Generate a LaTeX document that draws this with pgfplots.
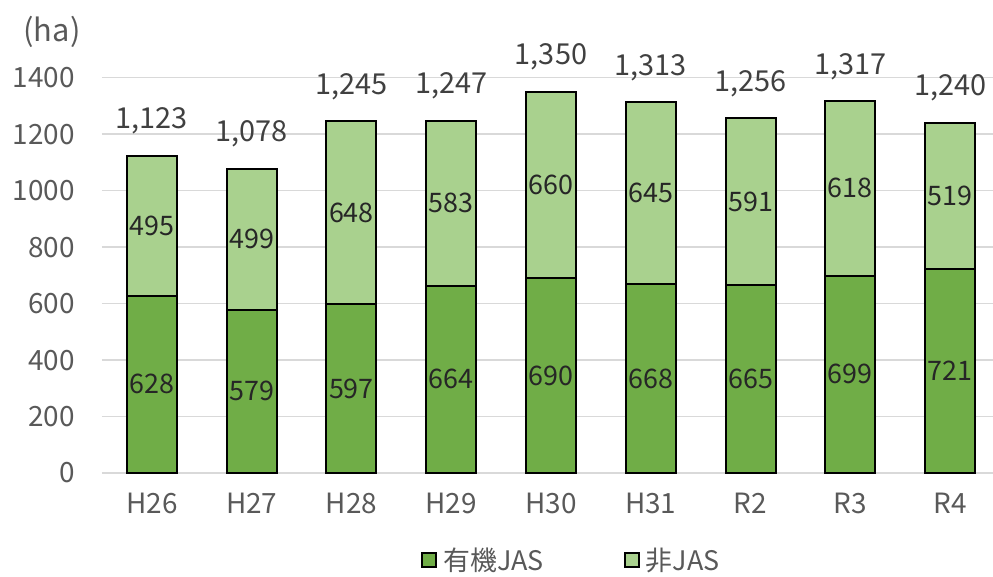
\documentclass[border=0pt]{standalone}
\usepackage{fontspec}
\setmainfont{Noto Sans CJK JP}
\usepackage{pgfplots}
\pgfplotsset{compat=1.18}
\usepackage{pgfplotstable}
\definecolor{dg}{HTML}{70AD47}
\definecolor{lg}{HTML}{A9D18E}
\definecolor{tk}{HTML}{595959}
\definecolor{tt}{HTML}{404040}
\definecolor{in}{HTML}{262626}
\definecolor{gl}{HTML}{D9D9D9}
\pgfplotstableread{
x org non total
0 628 495 1123
1 579 499 1078
2 597 648 1245
3 664 583 1247
4 690 660 1350
5 668 645 1313
6 665 591 1256
7 699 618 1317
8 721 519 1240
}\data
\begin{document}
\begin{tikzpicture}
\useasboundingbox (-102bp,-104bp) rectangle (891bp,473bp);
\begin{axis}[
  at={(0,0)}, anchor=south west,
  scale only axis, width=891bp, height=395.3bp,
  xmin=-0.5, xmax=8.43, ymin=0, ymax=1400,
  ytick={0,200,...,1400},
  xtick={0,...,8}, xticklabels={H26,H27,H28,H29,H30,H31,R2,R3,R4},
  axis line style={draw=none}, major tick length=0pt,
  ymajorgrids, grid style={gl, line width=1.5bp},
  ybar, bar width=50bp, bar shift=0pt,
  tick label style={font=\fontsize{28}{32}\selectfont, text=tk},
  /pgf/number format/assume math mode=true, /pgf/number format/1000 sep={},
  yticklabel style={anchor=east, inner sep=0pt, xshift=-27bp},
  xticklabel style={anchor=base, inner sep=0pt, yshift=-40bp},
  clip=false,
  legend columns=2,
  legend style={at={(axis description cs:0.527,-0.22)}, anchor=center, draw=none,
    font=\fontsize{27}{30}\selectfont, text=tk,
    /tikz/every even column/.append style={column sep=78bp},
    /tikz/every odd column/.append style={column sep=4bp}},
]
\addplot[fill=lg, draw=black, line width=2bp, forget plot] table[x=x,y=total]{\data};
\addplot[fill=dg, draw=black, line width=2bp, forget plot] table[x=x,y=org]{\data};
\addplot[draw=none, fill=none, forget plot, point meta=explicit,
  nodes near coords={\pgfmathprintnumber[1000 sep={,}]{\pgfplotspointmeta}},
  every node near coord/.append style={anchor=base, yshift=27bp, font=\fontsize{29}{32}\selectfont, text=tt}]
  table[x=x, y=total, meta=total]{\data};
\addplot[draw=none, fill=none, forget plot, point meta=explicit,
  nodes near coords={\pgfmathprintnumber{\pgfplotspointmeta}},
  every node near coord/.append style={anchor=center, font=\fontsize{27}{30}\selectfont, text=in}]
  table[x=x, y expr=\thisrow{org}/2, meta=org]{\data};
\addplot[draw=none, fill=none, forget plot, point meta=explicit,
  nodes near coords={\pgfmathprintnumber{\pgfplotspointmeta}},
  every node near coord/.append style={anchor=center, font=\fontsize{27}{30}\selectfont, text=in}]
  table[x=x, y expr=\thisrow{org}+\thisrow{non}/2, meta=non]{\data};
\addlegendimage{legend image code/.code={\draw[fill=dg, draw=black, line width=2bp] (0bp,-7bp) rectangle (14bp,7bp);}}
\addlegendentry{有機JAS}
\addlegendimage{legend image code/.code={\draw[fill=lg, draw=black, line width=2bp] (0bp,-7bp) rectangle (14bp,7bp);}}
\addlegendentry{非JAS}
\end{axis}
\node[font=\fontsize{31}{34}\selectfont, text=tk] at (-50bp,441bp) {(ha)};
\end{tikzpicture}
\end{document}
